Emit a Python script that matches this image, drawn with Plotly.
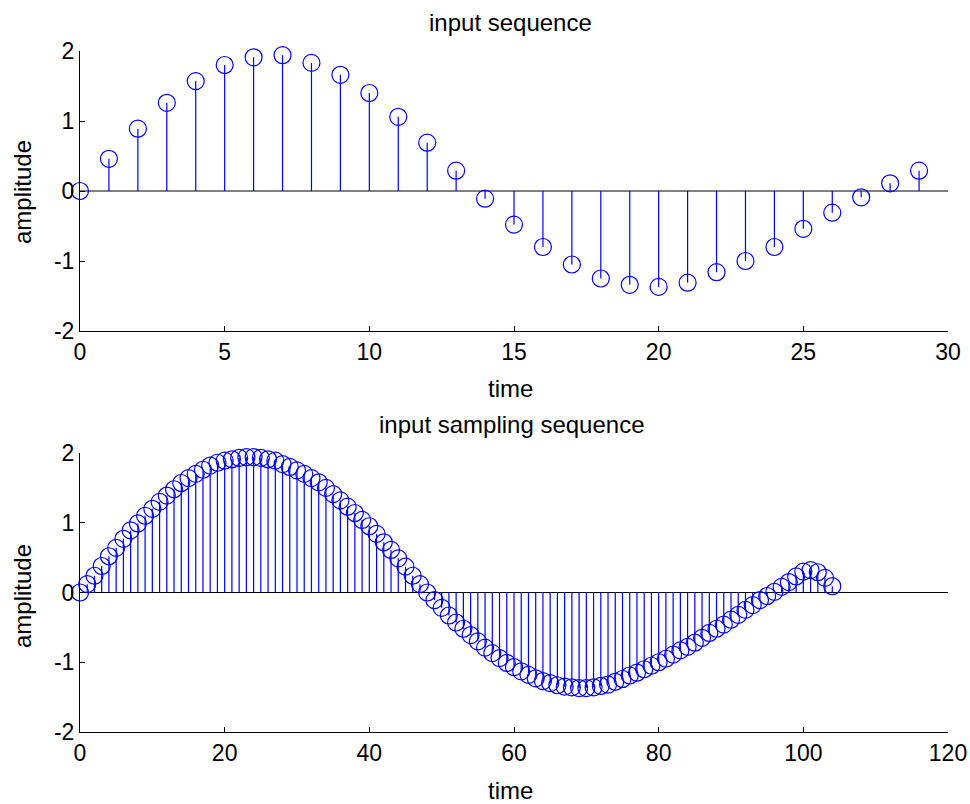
import plotly.graph_objects as go

# ---------------- data ----------------
top_time = list(range(30))
top_amp = [0.00, 0.46, 0.89, 1.26, 1.57, 1.80, 1.91, 1.94, 1.83, 1.66,
           1.40, 1.06, 0.69, 0.29, -0.11, -0.48, -0.80, -1.05, -1.25, -1.34,
           -1.37, -1.31, -1.16, -1.00, -0.80, -0.54, -0.31, -0.09, 0.11, 0.29]

bot_time = list(range(105))
bot_amp = [0.00, 0.12, 0.24, 0.38, 0.52, 0.64, 0.77, 0.89, 0.99, 1.10,
           1.20, 1.30, 1.39, 1.48, 1.57, 1.64, 1.70, 1.76, 1.82, 1.86,
           1.89, 1.91, 1.93, 1.94, 1.94, 1.93, 1.91, 1.89, 1.84, 1.80,
           1.75, 1.70, 1.64, 1.58, 1.50, 1.41, 1.32, 1.23, 1.14, 1.04,
           0.95, 0.84, 0.72, 0.61, 0.49, 0.37, 0.24, 0.12, 0.00, -0.11,
           -0.22, -0.33, -0.43, -0.52, -0.61, -0.70, -0.79, -0.87, -0.94, -1.01,
           -1.07, -1.13, -1.18, -1.23, -1.27, -1.30, -1.33, -1.35, -1.36, -1.37,
           -1.37, -1.36, -1.34, -1.32, -1.28, -1.24, -1.19, -1.15, -1.10, -1.05,
           -1.00, -0.95, -0.89, -0.83, -0.78, -0.72, -0.65, -0.58, -0.52, -0.46,
           -0.39, -0.32, -0.25, -0.18, -0.11, -0.05, 0.01, 0.08, 0.15, 0.23,
           0.30, 0.32, 0.29, 0.21, 0.09]

top_xticks = [0, 5, 10, 15, 20, 25, 30]
bot_xticks = [0, 20, 40, 60, 80, 100, 120]
y_ticks = [-2, -1, 0, 1, 2]
y_ticktext = ["-2", "-1", "0", "1", "2"]
top_xrange = [0, 30]
bot_xrange = [0, 120]

top_title = "input sequence"
bot_title = "input sampling sequence"
x_label = "time"
y_label = "amplitude"

# ---------------- figure ----------------
W, H = 970, 804
BLUE = "#0000FF"
FONT = "Liberation Sans, Arial, sans-serif"
FS = 23
FS_LAB = 24

fig = go.Figure()


def stems(t, a):
    xs, ys = [], []
    for ti, ai in zip(t, a):
        xs += [ti, ti, None]
        ys += [0, ai, None]
    return xs, ys


def add_stem(t, a, xr, xa, ya):
    # baseline
    fig.add_trace(go.Scatter(x=xr, y=[0, 0], mode="lines",
                             line=dict(color="black", width=1.2),
                             xaxis=xa, yaxis=ya, hoverinfo="skip"))
    sx, sy = stems(t, a)
    fig.add_trace(go.Scatter(x=sx, y=sy, mode="lines",
                             line=dict(color=BLUE, width=1.2),
                             xaxis=xa, yaxis=ya, hoverinfo="skip"))
    fig.add_trace(go.Scatter(x=t, y=a, mode="markers",
                             marker=dict(symbol="circle-open", size=17,
                                         color=BLUE, line=dict(width=1.2, color=BLUE)),
                             cliponaxis=False,
                             xaxis=xa, yaxis=ya))


add_stem(top_time, top_amp, top_xrange, "x", "y")
add_stem(bot_time, bot_amp, bot_xrange, "x2", "y2")

x0, x1 = 80 / W, 948 / W
top_dom = [(H - 331) / H, (H - 51) / H]
bot_dom = [(H - 732) / H, (H - 453) / H]

axcommon = dict(showgrid=False, zeroline=False, showline=True, automargin=False,
                linecolor="black", linewidth=1, ticks="inside", ticklen=5,
                tickcolor="black", tickfont=dict(family=FONT, size=FS, color="black"))

fig.update_layout(
    width=W, height=H,
    margin=dict(l=0, r=0, t=0, b=0),
    paper_bgcolor="white", plot_bgcolor="white",
    showlegend=False,
    xaxis=dict(domain=[x0, x1], range=top_xrange, tickvals=top_xticks,
               anchor="y", **axcommon),
    yaxis=dict(domain=top_dom, range=[-2, 2], tickvals=y_ticks, ticktext=y_ticktext,
               anchor="x", **axcommon),
    xaxis2=dict(domain=[x0, x1], range=bot_xrange, tickvals=bot_xticks,
                anchor="y2", **axcommon),
    yaxis2=dict(domain=bot_dom, range=[-2, 2], tickvals=y_ticks, ticktext=y_ticktext,
                anchor="x2", **axcommon),
)

def ann(text, x, y, angle=0):
    fig.add_annotation(text=text, x=x / W, y=1 - y / H, xref="paper", yref="paper",
                       showarrow=False, textangle=angle,
                       xanchor="center", yanchor="middle",
                       font=dict(family=FONT, size=FS_LAB, color="black"))

ann(top_title, 510, 22)
ann(x_label, 510, 388)
ann(y_label, 22, 192, -90)
ann(bot_title, 512, 424)
ann(x_label, 510, 790)
ann(y_label, 22, 596, -90)

fig.write_html("out.html")
